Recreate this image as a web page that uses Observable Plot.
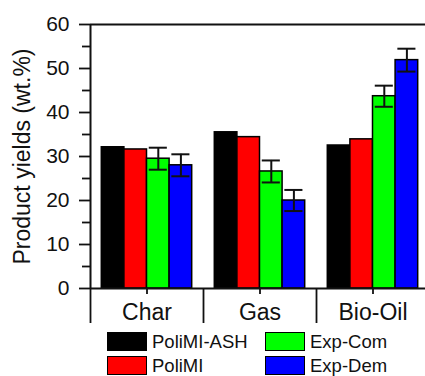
<!DOCTYPE html>
<html>
<head>
<meta charset="utf-8">
<script src="https://cdn.jsdelivr.net/npm/d3@7"></script>
<script src="https://cdn.jsdelivr.net/npm/@observablehq/plot@0.6"></script>
<style>
  html, body { margin: 0; padding: 0; background: #fff; }
  #wrap { position: relative; width: 425px; height: 376px; overflow: hidden; font-family: "Liberation Sans", Arial, sans-serif; }
  #legend { position: absolute; left: 107px; top: 332px; display: grid; grid-template-columns: 158px 158px; row-gap: 5px; }
  .item { display: flex; align-items: center; height: 19px; font-size: 18.5px; color: #111; }
  .sw { width: 40px; height: 19px; box-sizing: border-box; border: 1.5px solid #000; margin-right: 5px; }
</style>
</head>
<body>
<div id="wrap"><div id="chart"></div><div id="legend"></div></div>
<script>
const categories = ["Char", "Gas", "Bio-Oil"];
const series = ["PoliMI-ASH", "PoliMI", "Exp-Com", "Exp-Dem"];
const colors = ["#000000", "#ff0000", "#00ff00", "#0000ff"];
const poliMIASH = [32.1, 35.5, 32.5];
const poliMI = [31.6, 34.4, 33.9];
const expCom = [29.5, 26.6, 43.7];
const expDem = [28.0, 20.0, 51.9];
const errPoliMIASH = [0, 0, 0];
const errPoliMI = [0, 0, 0];
const errExpCom = [2.5, 2.5, 2.4];
const errExpDem = [2.5, 2.4, 2.6];
const yTicks = [0, 10, 20, 30, 40, 50, 60];
const yMinorTicks = [5, 15, 25, 35, 45, 55];

const values = [poliMIASH, poliMI, expCom, expDem];
const errors = [errPoliMIASH, errPoliMI, errExpCom, errExpDem];

const groupPad = 0.1, barW = 0.2, capHalf = 0.08;
const rows = [];
categories.forEach((cat, i) => {
  series.forEach((s, j) => {
    const x1 = i + groupPad + barW * j;
    rows.push({cat, series: s, x1, x2: x1 + barW, xc: x1 + barW / 2, value: values[j][i], err: errors[j][i]});
  });
});
const errRows = rows.filter(d => d.err > 0);

const chart = Plot.plot({
  width: 425,
  height: 330,
  marginLeft: 90,
  marginRight: 0,
  marginTop: 24,
  marginBottom: 42,
  style: {fontFamily: "'Liberation Sans', Arial, sans-serif", color: "#111", background: "#fff"},
  x: {type: "linear", domain: [0, 3], range: [90, 429]},
  y: {domain: [0, 60]},
  color: {domain: series, range: colors},
  marks: [
    Plot.rectY(rows, {x1: "x1", x2: "x2", y1: 0, y2: "value", fill: "series", stroke: "#000", strokeWidth: 1.5}),
    Plot.ruleX(errRows, {x: "xc", y1: d => d.value - d.err, y2: d => d.value + d.err, stroke: "#111", strokeWidth: 2}),
    Plot.ruleY(errRows, {y: d => d.value + d.err, x1: d => d.xc - capHalf, x2: d => d.xc + capHalf, stroke: "#111", strokeWidth: 2}),
    Plot.ruleY(errRows, {y: d => d.value - d.err, x1: d => d.xc - capHalf, x2: d => d.xc + capHalf, stroke: "#111", strokeWidth: 2}),
    Plot.axisY({ticks: yTicks, tickSize: 11, tickPadding: 10, tickFormat: d => String(d), fontSize: 21, strokeWidth: 1.8, label: null}),
    Plot.axisY({ticks: yMinorTicks, tickSize: 8, tickFormat: () => "", strokeWidth: 1.8, label: null}),
    Plot.axisY({ticks: [], tickSize: 0, label: "Product yields (wt.%)", labelAnchor: "center", labelArrow: "none", labelOffset: 77, fontSize: 23}),
    Plot.axisX({ticks: [0, 1, 2, 3], tickSize: 35, tickFormat: () => "", strokeWidth: 1.8, label: null}),
    Plot.axisX({ticks: [0.5, 1.5, 2.5], tickSize: 6, tickPadding: 9, tickFormat: d => categories[Math.round(d - 0.5)], fontSize: 23, strokeWidth: 1.8, label: null}),
    Plot.ruleX([0], {stroke: "#111", strokeWidth: 2}),
    Plot.ruleY([0], {stroke: "#111", strokeWidth: 2}),
    Plot.ruleY([60], {stroke: "#111", strokeWidth: 2})
  ]
});
document.getElementById("chart").appendChild(chart);

const legend = document.getElementById("legend");
const order = [0, 2, 1, 3];
order.forEach(j => {
  const item = document.createElement("div");
  item.className = "item";
  const sw = document.createElement("div");
  sw.className = "sw";
  sw.style.background = colors[j];
  const t = document.createElement("span");
  t.textContent = series[j];
  item.appendChild(sw);
  item.appendChild(t);
  legend.appendChild(item);
});
</script>
</body>
</html>
